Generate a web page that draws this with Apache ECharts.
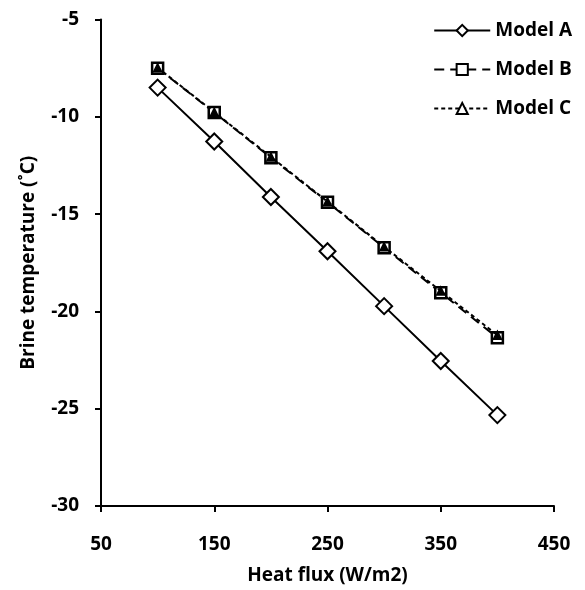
<!DOCTYPE html>
<html>
<head>
<meta charset="utf-8">
<script src="https://cdn.jsdelivr.net/npm/echarts@6/dist/echarts.min.js"></script>
<style>
html,body{margin:0;padding:0;background:#fff;}
#chart{width:585px;height:590px;}
</style>
</head>
<body>
<div id="chart"></div>
<script>
const heatFlux = [100, 150, 200, 250, 300, 350, 400];
const modelA = [-8.50, -11.27, -14.12, -16.91, -19.73, -22.55, -25.33];
const modelB = [-7.50, -9.78, -12.10, -14.39, -16.73, -19.04, -21.35];
const modelC = [-7.48, -9.76, -12.06, -14.36, -16.68, -18.95, -21.22];
const xTicks = [50, 150, 250, 350, 450];
const yTicks = [-30, -25, -20, -15, -10, -5];

const FONT = '"Open Sans"';
const FS = 19;
const pair = arr => heatFlux.map((x, i) => [x, arr[i]]);

const chart = echarts.init(document.getElementById('chart'), null, {renderer: 'canvas'});
chart.setOption({
  backgroundColor: '#ffffff',
  animation: false,
  grid: {left: 101, right: 31, top: 19.5, bottom: 83, containLabel: false},
  legend: {
    orient: 'vertical',
    right: 8,
    top: 16,
    itemWidth: 56,
    itemHeight: 14,
    itemGap: 20,
    textStyle: {fontFamily: FONT, fontWeight: 'bold', fontSize: FS, color: '#000'},
    data: [
      {name: 'Model A'},
      {name: 'Model B'},
      {name: 'Model C', itemStyle: {color: '#fff', borderColor: '#000', borderWidth: 2}}
    ]
  },
  xAxis: {
    type: 'value',
    min: xTicks[0], max: xTicks[xTicks.length - 1], interval: 100,
    name: 'Heat flux (W/m2)',
    nameLocation: 'middle',
    nameGap: 60,
    nameTextStyle: {fontFamily: FONT, fontWeight: 'bold', fontSize: FS, color: '#000'},
    axisLine: {lineStyle: {color: '#000', width: 2}},
    axisTick: {show: true, length: 6, lineStyle: {color: '#000', width: 2}},
    axisLabel: {margin: 29, fontFamily: FONT, fontWeight: 'bold', fontSize: FS, color: '#000'},
    splitLine: {show: false}
  },
  yAxis: {
    type: 'value',
    min: yTicks[0], max: yTicks[yTicks.length - 1], interval: 5,
    name: 'Brine temperature (˚C)',
    nameLocation: 'middle',
    nameGap: 63,
    nameTextStyle: {fontFamily: FONT, fontWeight: 'bold', fontSize: FS, color: '#000'},
    axisLine: {show: true, lineStyle: {color: '#000', width: 2}},
    axisTick: {show: true, length: 6, lineStyle: {color: '#000', width: 2}},
    axisLabel: {margin: 22, fontFamily: FONT, fontWeight: 'bold', fontSize: FS, color: '#000'},
    splitLine: {show: false}
  },
  series: [
    {
      name: 'Model A', type: 'line', data: pair(modelA),
      symbol: 'diamond', symbolSize: 16,
      lineStyle: {color: '#000', width: 2, type: 'solid'},
      itemStyle: {color: '#fff', borderColor: '#000', borderWidth: 2},
      z: 3
    },
    {
      name: 'Model B', type: 'line', data: pair(modelB),
      symbol: 'rect', symbolSize: 11,
      lineStyle: {color: '#000', width: 2, type: [10, 6]},
      itemStyle: {color: '#fff', borderColor: '#000', borderWidth: 2.5},
      z: 2
    },
    {
      name: 'Model C', type: 'line', data: pair(modelC),
      symbol: 'triangle', symbolSize: 8,
      lineStyle: {color: '#000', width: 2, type: [4, 3]},
      itemStyle: {color: '#000', borderColor: '#000', borderWidth: 1.5},
      z: 4
    }
  ]
});
</script>
</body>
</html>
